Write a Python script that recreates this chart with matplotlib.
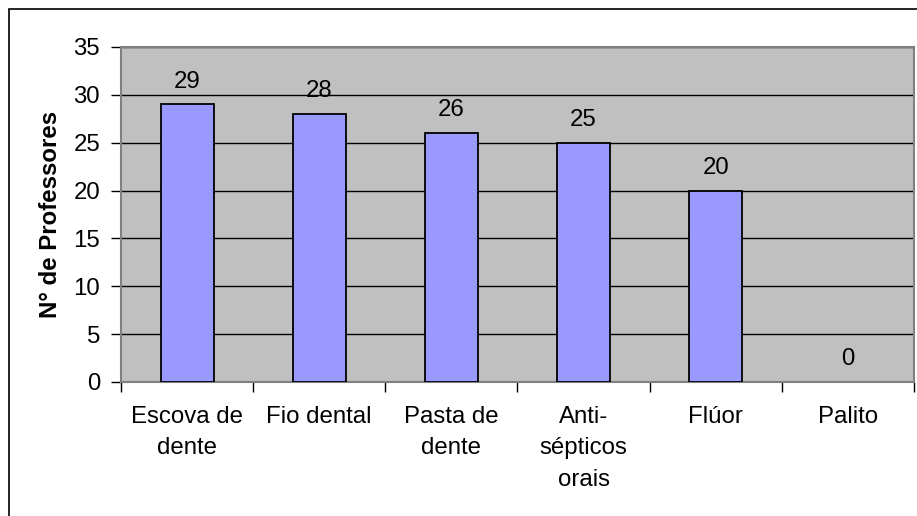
import matplotlib.pyplot as plt
from matplotlib.patches import Rectangle

plt.rcParams['font.family'] = ['Liberation Sans', 'DejaVu Sans']

# data
categorias = ['Escova de\ndente', 'Fio dental', 'Pasta de\ndente',
              'Anti-\nsépticos\norais', 'Flúor', 'Palito']
valores = [29, 28, 26, 25, 20, 0]
y_ticks = [0, 5, 10, 15, 20, 25, 30, 35]

fs = 17.3

fig = plt.figure(figsize=(9.17, 5.16), dpi=100)
ax = fig.add_axes([121 / 917, 1 - 382 / 516, 793 / 917, 335 / 516])

# outer chart border (Excel style)
fig.patches.append(Rectangle((9 / 917, -0.1), 1.2, 1 - 8.5 / 516 + 0.1,
                             transform=fig.transFigure, fill=False,
                             edgecolor='black', linewidth=1.2))

ax.set_facecolor('#C0C0C0')
x = range(len(categorias))
bordas = ['black' if v > 0 else 'none' for v in valores]
ax.bar(x, valores, width=0.4, color='#9999FF', edgecolor=bordas,
       linewidth=1.3, zorder=3)

for i, v in enumerate(valores):
    ax.annotate(str(v), (i, v), xytext=(0, 8.5), textcoords='offset points',
                ha='center', va='bottom', fontsize=fs)

ax.set_xlim(-0.5, len(categorias) - 0.5)
ax.set_ylim(0, 35)
ax.set_yticks(y_ticks)
ax.yaxis.grid(True, color='black', linewidth=1.0, zorder=1)
ax.set_axisbelow(True)

# x ticks at category boundaries, labels centered on bars
ax.set_xticks([i - 0.5 for i in range(len(categorias) + 1)])
ax.set_xticklabels([])
ax.set_xticks(list(x), minor=True)
ax.set_xticklabels(categorias, minor=True, fontsize=fs, linespacing=1.58)
ax.tick_params(axis='x', which='minor', length=0, pad=17)
ax.tick_params(axis='x', which='major', length=7, width=1, direction='out')
ax.tick_params(axis='y', length=7, width=1, labelsize=fs, pad=8)

for s in ax.spines.values():
    s.set_color('#808080')
    s.set_linewidth(1.5)

ax.set_ylabel('N° de Professores', fontsize=fs, fontweight='bold', labelpad=8)

fig.savefig('out.png', dpi=100)
